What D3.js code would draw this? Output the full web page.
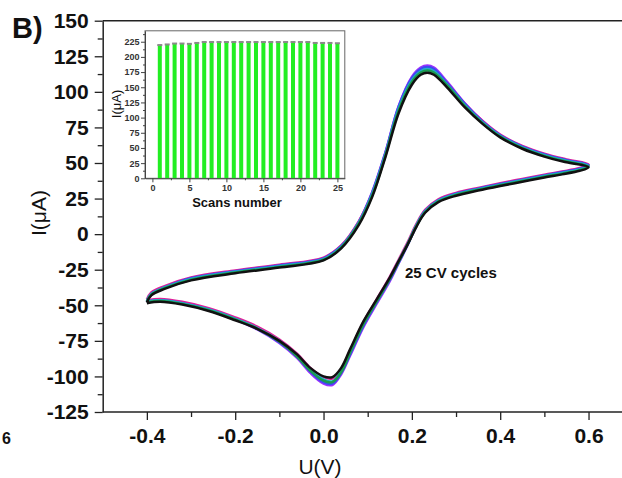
<!DOCTYPE html>
<html>
<head>
<meta charset="utf-8">
<script src="https://cdn.jsdelivr.net/npm/d3@7"></script>
<style>
  body { margin: 0; background: #fff; }
  svg { display: block; font-family: "Liberation Sans", Arial, sans-serif; }
</style>
</head>
<body>
<div id="chart"></div>
<script>
// potential sweep (V): forward -0.4 -> 0.6, then back to -0.4
const potentials = [
  -0.40, -0.39, -0.36, -0.30, -0.20, -0.10, 0.00, 0.04, 0.08, 0.11, 0.14, 0.17,
  0.20, 0.22, 0.235, 0.25, 0.28, 0.32, 0.36, 0.40, 0.45, 0.50, 0.55, 0.60,
  0.58, 0.54, 0.50, 0.45, 0.40, 0.35, 0.30, 0.26, 0.23, 0.21, 0.19, 0.17,
  0.15, 0.12, 0.09, 0.06, 0.04, 0.02, 0.00, -0.03, -0.06, -0.10, -0.15, -0.20,
  -0.26, -0.32, -0.37, -0.40
];

// current (uA) of a few of the 25 cycles
const currentPurple = [
  -47.5, -42.5, -37.5, -31, -26, -22, -17, -8.5, 9, 29.5, 57.5, 90,
  110.5, 117, 118.5, 117, 107, 92, 79.5, 69.5, 61.5, 56, 52, 48.5,
  46, 43.5, 41, 38, 35, 31.8, 28.2, 23.5, 16, 5.5, -8, -20.5,
  -33, -49, -65.5, -85.5, -98.5, -106, -105, -97.5, -87, -76.5, -67, -60,
  -53.5, -49, -47, -48
];
const currentMagenta = [
  -46, -41, -36.5, -30.5, -25.5, -21.5, -16.5, -8, 9, 28.5, 56.5, 88.5,
  108.5, 115, 116.5, 115, 106, 91.5, 79.5, 70, 62, 56.5, 52.5, 49,
  46.5, 44, 41.8, 38.8, 35.8, 32.5, 29, 24.5, 17, 7, -6, -18,
  -30, -46, -62, -82, -95, -101.5, -100.5, -94, -84, -74, -65, -58.5,
  -52, -47.5, -45.5, -46.5
];
const currentBlue = [
  -47, -42, -37.5, -31, -26, -22, -17, -8.5, 8.5, 29, 57, 89.5,
  109.5, 116, 117.5, 116, 106, 91.5, 79, 69.5, 61.5, 56, 52, 48.5,
  46, 43.5, 41.2, 38.2, 35.2, 32, 28.4, 23.8, 16.3, 6, -7.5, -20,
  -32, -48, -64.5, -84.5, -97.5, -105, -104, -96.5, -86, -76, -66.5, -59.5,
  -53, -48.5, -46.5, -47.5
];
const currentCyan = [
  -47, -42, -37.5, -31.5, -26.5, -22.5, -17.5, -9, 8, 28, 56, 88,
  108, 114.5, 116, 114.5, 105, 90.5, 78.5, 69, 61, 55.5, 51.5, 48,
  45.5, 43, 40.8, 37.8, 34.8, 31.6, 28, 23.5, 16, 6, -7, -19,
  -31, -47, -63, -83, -96, -103.5, -102, -95, -85, -75, -66, -59.5,
  -53, -48.5, -46.5, -47.5
];
const currentGreen = [
  -47.5, -42.5, -38, -32, -27, -23, -18, -9.5, 7.5, 27, 55, 87,
  107, 113.5, 115, 113.5, 104.5, 90, 78, 68.5, 60.5, 55, 51, 47.5,
  45, 42.5, 40.3, 37.3, 34.3, 31.2, 27.6, 23, 15.5, 5.5, -7.5, -19.5,
  -31.5, -47.5, -63.5, -83.5, -97, -104, -103, -96, -86, -75.5, -66.5, -60,
  -53.5, -49, -47, -48
];
const currentBlack = [
  -48, -43, -38.5, -32.5, -27.5, -23.5, -18.5, -10, 6.5, 26, 54, 85,
  105, 112, 113.5, 112, 103, 89, 77.5, 68, 60, 54.5, 50.5, 47,
  44.5, 42, 39.8, 36.8, 33.8, 30.6, 27, 22.5, 15, 5, -7.5, -19,
  -30.5, -46, -61.5, -81, -94, -100.5, -100, -94, -84.5, -75, -66.5, -60.5,
  -54, -49.5, -47.5, -48.5
];
const cycleColors = ["#9b30ff", "#e0209a", "#3a4cf0", "#20b0c8", "#1a9a50", "#111111"];

// inset: peak current per scan
const scans = d3.range(1, 26);
const peakCurrent = [
  219.5, 220.5, 222, 222, 221.5, 223, 224.5, 224.5, 224.5, 224.5, 224.5, 224.5, 224.5,
  224.5, 224.5, 224.5, 224.5, 224.5, 224.5, 224.5, 224.5, 223, 223, 223, 222.5
];

// ticks
const xTicks = [-0.4, -0.2, 0.0, 0.2, 0.4, 0.6];
const xMinor = [-0.3, -0.1, 0.1, 0.3, 0.5];
const yTicks = d3.range(-125, 151, 25);
const yMinor = d3.range(-112.5, 150, 25);
const insetXTicks = [0, 5, 10, 15, 20, 25];
const insetXMinor = [2.5, 7.5, 12.5, 17.5, 22.5];
const insetYTicks = d3.range(0, 226, 25);
const insetYMinor = d3.range(12.5, 240, 25);

const W = 622, H = 478;
const svg = d3.select("#chart").append("svg")
    .attr("width", W)
    .attr("height", H);

const x = d3.scaleLinear().domain([-0.5, 0.7]).range([102.7, 632.7]);
const y = d3.scaleLinear().domain([-125, 150]).range([412, 20.7]);

// top frame line (right side is cut off in the picture)
svg.append("line")
    .attr("x1", x(-0.5)).attr("x2", W)
    .attr("y1", y(150)).attr("y2", y(150))
    .attr("stroke", "#222").attr("stroke-width", 1.5);

// x axis
const gx = svg.append("g").attr("transform", "translate(0," + y(-125) + ")");
gx.call(d3.axisBottom(x).tickValues(xTicks).tickSize(8).tickPadding(8).tickSizeOuter(0)
    .tickFormat(d => d.toFixed(1)));
gx.append("g").call(d3.axisBottom(x).tickValues(xMinor).tickSize(5).tickFormat(""))
    .select(".domain").remove();

// y axis
const gy = svg.append("g").attr("transform", "translate(" + x(-0.5) + ",0)");
gy.call(d3.axisLeft(y).tickValues(yTicks).tickSize(8).tickPadding(6).tickSizeOuter(0)
    .tickFormat(d => String(d)));
gy.append("g").call(d3.axisLeft(y).tickValues(yMinor).tickSize(5).tickFormat(""))
    .select(".domain").remove();

svg.selectAll(".domain").attr("stroke", "#222").attr("stroke-width", 1.5);
svg.selectAll(".tick line").attr("stroke", "#222").attr("stroke-width", 1.3);
[gx, gy].forEach(g => g.selectAll(".tick text")
    .attr("font-size", 21).attr("font-weight", "bold").attr("fill", "#111")
    .attr("font-family", '"Liberation Sans", Arial, sans-serif'));
gx.select(".domain").attr("d", "M" + x(-0.5) + ",0H" + W);

// axis titles
svg.append("text")
    .attr("x", 320).attr("y", 474)
    .attr("text-anchor", "middle")
    .attr("font-size", 21).attr("fill", "#111")
    .text("U(V)");
svg.append("text")
    .attr("transform", "translate(46,213) rotate(-90)")
    .attr("text-anchor", "middle")
    .attr("font-size", 21).attr("fill", "#111")
    .text("I(μA)");

svg.append("text")
    .attr("x", 12).attr("y", 38)
    .attr("font-size", 29).attr("font-weight", "bold").attr("fill", "#111")
    .text("B)");
svg.append("text")
    .attr("x", 2).attr("y", 444)
    .attr("font-size", 16).attr("font-weight", "bold").attr("fill", "#111")
    .text("6");

// CV cycles
const series = [currentPurple, currentMagenta, currentBlue, currentCyan, currentGreen, currentBlack];
const line = d3.line()
    .x((d, i) => x(potentials[i]))
    .y(d => y(d))
    .curve(d3.curveCatmullRom.alpha(0.5));

svg.append("g").selectAll("path")
    .data(series)
    .join("path")
      .attr("d", d => line(d))
      .attr("fill", "none")
      .attr("stroke", (d, i) => cycleColors[i])
      .attr("stroke-width", 2.5)
      .attr("stroke-linejoin", "round");

svg.append("text")
    .attr("x", 405).attr("y", 278)
    .attr("font-size", 15).attr("font-weight", "bold").attr("fill", "#111")
    .text("25 CV cycles");

// inset bar chart
const xi = d3.scaleLinear().domain([-1, 26]).range([145, 344.8]);
const yi = d3.scaleLinear().domain([0, 243]).range([178.3, 30.8]);
const inset = svg.append("g");

inset.append("rect")
    .attr("x", xi(-1)).attr("y", yi(243))
    .attr("width", xi(26) - xi(-1)).attr("height", yi(0) - yi(243))
    .attr("fill", "#fff").attr("stroke", "#666").attr("stroke-width", 1);

inset.selectAll(".bar")
    .data(scans)
    .join("rect")
      .attr("class", "bar")
      .attr("x", d => xi(d) - 2)
      .attr("y", (d, i) => yi(peakCurrent[i]))
      .attr("width", 4)
      .attr("height", (d, i) => yi(0) - yi(peakCurrent[i]))
      .attr("fill", "#22ee22");

inset.selectAll(".cap")
    .data(scans)
    .join("rect")
      .attr("class", "cap")
      .attr("x", d => xi(d) - 2.5)
      .attr("y", (d, i) => yi(peakCurrent[i]) - 1)
      .attr("width", 5)
      .attr("height", 2)
      .attr("fill", "#8a8a8a");

const gxi = inset.append("g").attr("transform", "translate(0," + yi(0) + ")");
gxi.call(d3.axisBottom(xi).tickValues(insetXTicks).tickSize(4).tickPadding(2.5).tickSizeOuter(0));
gxi.append("g").call(d3.axisBottom(xi).tickValues(insetXMinor).tickSize(2).tickFormat(""))
    .select(".domain").remove();
const gyi = inset.append("g").attr("transform", "translate(" + xi(-1) + ",0)");
gyi.call(d3.axisLeft(yi).tickValues(insetYTicks).tickSize(4).tickPadding(1.5).tickSizeOuter(0));
gyi.append("g").call(d3.axisLeft(yi).tickValues(insetYMinor).tickSize(2).tickFormat(""))
    .select(".domain").remove();

[gxi, gyi].forEach(g => {
  g.selectAll(".domain").attr("stroke", "#444").attr("stroke-width", 1);
  g.selectAll(".tick line").attr("stroke", "#444").attr("stroke-width", 1);
  g.selectAll(".tick text")
    .attr("font-size", 9).attr("font-weight", "bold").attr("fill", "#333")
    .attr("font-family", '"Liberation Sans", Arial, sans-serif');
});

inset.append("text")
    .attr("x", 237).attr("y", 207)
    .attr("text-anchor", "middle")
    .attr("font-size", 13).attr("font-weight", "bold").attr("fill", "#111")
    .text("Scans number");
inset.append("text")
    .attr("transform", "translate(121,104) rotate(-90)")
    .attr("text-anchor", "middle")
    .attr("font-size", 13).attr("fill", "#111")
    .text("I(μA)");
</script>
</body>
</html>
